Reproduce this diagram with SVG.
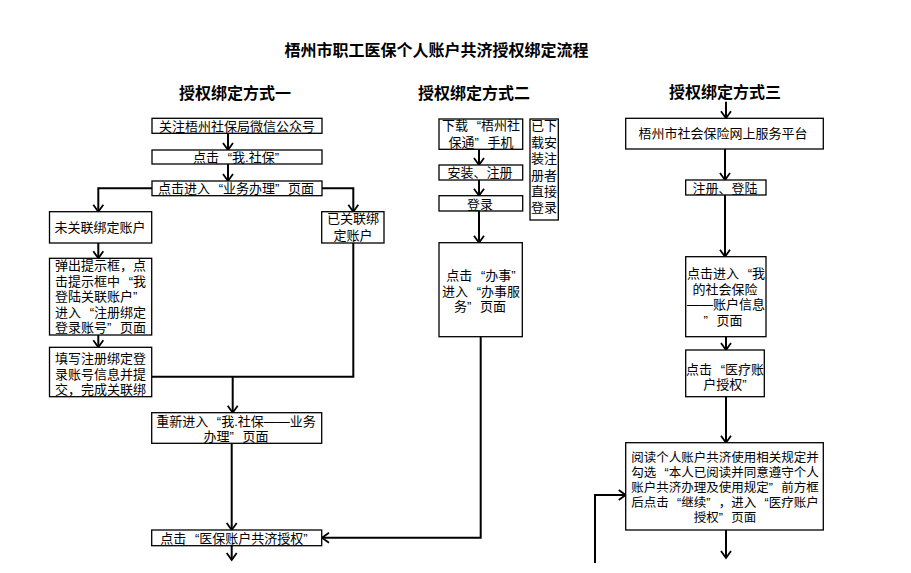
<svg xmlns="http://www.w3.org/2000/svg" width="911" height="573" viewBox="0 0 911 573">
<defs>
<style>
.bg{fill:#fff}
.box{fill:#fff;stroke:#000;stroke-width:1.3}
.t{font-family:"Liberation Sans","Noto Sans CJK SC",sans-serif;font-size:13px;fill:#000}
.s{font-size:12.5px}
.m{text-anchor:middle}
.h{font-family:"Liberation Sans","Noto Sans CJK SC",sans-serif;font-size:16px;font-weight:bold;fill:#000}
.c{fill:none;stroke:#000;stroke-width:2}
.a{marker-end:url(#arr)}
</style>
<marker id="arr" viewBox="-9 -6 10 12" refX="0" refY="0" markerWidth="10" markerHeight="12" markerUnits="userSpaceOnUse" orient="auto" overflow="visible">
<path d="M-7,-5 L0,0 L-7,5" fill="none" stroke="#000" stroke-width="1.8"/>
</marker>
</defs>
<rect class="bg" x="0" y="0" width="911" height="573"/>

<g id="titles">
<text class="h m" x="436.5" y="56">梧州市职工医保个人账户共济授权绑定流程</text>
<text class="h m" x="235" y="99">授权绑定方式一</text>
<text class="h m" x="474" y="99">授权绑定方式二</text>
<text class="h m" x="725" y="98">授权绑定方式三</text>
</g>

<g id="connectors">
<path class="c a" d="M228,133.3 V150"/>
<path class="c a" d="M228,164 V181"/>
<path class="c a" d="M152,188.3 H98.3 V211.7"/>
<path class="c a" d="M322,188.3 H353.3 V211.7"/>
<path class="c a" d="M98.3,243 V258.3"/>
<path class="c a" d="M98.3,335 V347.3"/>
<path class="c" d="M353.3,243 V376.7 H151.7"/>
<path class="c a" d="M232.7,376.7 V412.7"/>
<path class="c a" d="M231.7,443.3 V530"/>
<path class="c a" d="M231.7,545.7 V560"/>
<path class="c a" d="M480.7,336.7 V537.7 H322"/>
<path class="c a" d="M479,149.3 V165"/>
<path class="c a" d="M479,180 V195.7"/>
<path class="c a" d="M479,211 V242.7"/>
<path class="c a" d="M726,101.7 V118.3"/>
<path class="c a" d="M725,149 V180"/>
<path class="c a" d="M725,195 V256.7"/>
<path class="c a" d="M726,336.7 V350"/>
<path class="c a" d="M726,396.7 V442.7"/>
<path class="c a" d="M726,530 V558"/>
<path class="c a" d="M595,563 V495 H625.7"/>
</g>

<g id="n1">
<rect class="box" x="152" y="118.3" width="170" height="15"/>
<text class="t m" x="237" y="130.7">关注梧州社保局微信公众号</text>
</g>
<g id="n2">
<rect class="box" x="152" y="150" width="170" height="14"/>
<text class="t m" x="236" y="162">点击<tspan dx="8.7">“</tspan>我.社保”</text>
</g>
<g id="n3">
<rect class="box" x="152" y="181" width="170" height="14.7"/>
<text class="t m" x="236" y="193.3">点击进入<tspan dx="8.7">“</tspan>业务办理”<tspan dx="8.7">页面</tspan></text>
</g>
<g id="n4">
<rect class="box" x="49.5" y="211.7" width="102.2" height="31.3"/>
<text class="t m" x="100" y="231.5">未关联绑定账户</text>
</g>
<g id="n5">
<rect class="box" x="321.7" y="211.7" width="62.3" height="31.3"/>
<text class="t m" x="353" y="223">已关联绑</text>
<text class="t m" x="353" y="240">定账户</text>
</g>
<g id="n6">
<rect class="box" x="49.5" y="258.3" width="102.2" height="76.7"/>
<text class="t" x="55" y="270">弹出提示框，点</text>
<text class="t" x="55" y="285.5">击提示框中<tspan dx="8.7">“</tspan>我</text>
<text class="t" x="55" y="301">登陆关联账户”</text>
<text class="t" x="55" y="316.5">进入<tspan dx="8.7">“</tspan>注册绑定</text>
<text class="t" x="55" y="332">登录账号”<tspan dx="8.7">页面</tspan></text>
</g>
<g id="n7">
<rect class="box" x="49.5" y="347.3" width="102.2" height="49.4"/>
<text class="t" x="55" y="363">填写注册绑定登</text>
<text class="t" x="55" y="378.5">录账号信息并提</text>
<text class="t" x="55" y="394">交，完成关联绑</text>
</g>
<g id="n8">
<rect class="box" x="151.7" y="412.7" width="170" height="30.6"/>
<text class="t m" x="236" y="425.5">重新进入<tspan dx="8.7">“</tspan>我.社保——业务</text>
<text class="t m" x="236" y="441">办理”<tspan dx="8.7">页面</tspan></text>
</g>
<g id="n9">
<rect class="box" x="151.7" y="530" width="170" height="15.7"/>
<text class="t m" x="234" y="542.5">点击<tspan dx="8.7">“</tspan>医保账户共济授权”</text>
</g>

<g id="m1">
<rect class="box" x="439" y="119" width="83.7" height="30.3"/>
<text class="t m" x="481" y="130">下载<tspan dx="8.7">“</tspan>梧州社</text>
<text class="t m" x="481" y="146.5">保通”<tspan dx="8.7">手机</tspan></text>
</g>
<g id="m2">
<rect class="box" x="439" y="165" width="83.7" height="15"/>
<text class="t m" x="480" y="177">安装、注册</text>
</g>
<g id="m3">
<rect class="box" x="439" y="195.7" width="83.7" height="15.3"/>
<text class="t m" x="480" y="209">登录</text>
</g>
<g id="m4">
<rect class="box" x="530" y="119" width="28.3" height="101"/>
<text class="t m" x="544" y="130">已下</text>
<text class="t m" x="544" y="146.5">载安</text>
<text class="t m" x="544" y="163">装注</text>
<text class="t m" x="544" y="179.5">册者</text>
<text class="t m" x="544" y="196">直接</text>
<text class="t m" x="544" y="212">登录</text>
</g>
<g id="m5">
<rect class="box" x="439" y="242.7" width="83.3" height="94"/>
<text class="t m" x="481" y="280">点击<tspan dx="8.7">“</tspan>办事”</text>
<text class="t m" x="481" y="295.5">进入<tspan dx="8.7">“</tspan>办事服</text>
<text class="t m" x="480" y="311">务”<tspan dx="8.7">页面</tspan></text>
</g>

<g id="r1">
<rect class="box" x="625.7" y="118.3" width="197.6" height="30.7"/>
<text class="t m" x="723" y="138">梧州市社会保险网上服务平台</text>
</g>
<g id="r2">
<rect class="box" x="685.7" y="180" width="80.3" height="15"/>
<text class="t m" x="725" y="193">注册、登陆</text>
</g>
<g id="r3">
<rect class="box" x="685.7" y="256.7" width="80.3" height="80"/>
<text class="t m" x="726" y="278">点击进入<tspan dx="8.7">“</tspan>我</text>
<text class="t m" x="725" y="293.5">的社会保险</text>
<text class="t m" x="726" y="309">——账户信息</text>
<text class="t m" x="723" y="324.5">”<tspan dx="8.7">页面</tspan></text>
</g>
<g id="r4">
<rect class="box" x="685.7" y="350" width="78.6" height="46.7"/>
<text class="t m" x="725" y="374">点击<tspan dx="8.7">“</tspan>医疗账</text>
<text class="t m" x="725" y="388.5">户授权”</text>
</g>
<g id="r5">
<rect class="box" x="625.7" y="442.7" width="197.6" height="87.3"/>
<text class="t s m" x="725" y="461.5">阅读个人账户共济使用相关规定并</text>
<text class="t s m" x="725" y="477">勾选<tspan dx="8.3">“</tspan>本人已阅读并同意遵守个人</text>
<text class="t s m" x="725" y="492">账户共济办理及使用规定”<tspan dx="8.3">前方框</tspan></text>
<text class="t s m" x="725" y="507">后点击<tspan dx="8.3">“</tspan>继续”<tspan dx="8.3">，进入</tspan><tspan dx="8.3">“</tspan>医疗账户</text>
<text class="t s m" x="725" y="522">授权”<tspan dx="8.3">页面</tspan></text>
</g>
</svg>
